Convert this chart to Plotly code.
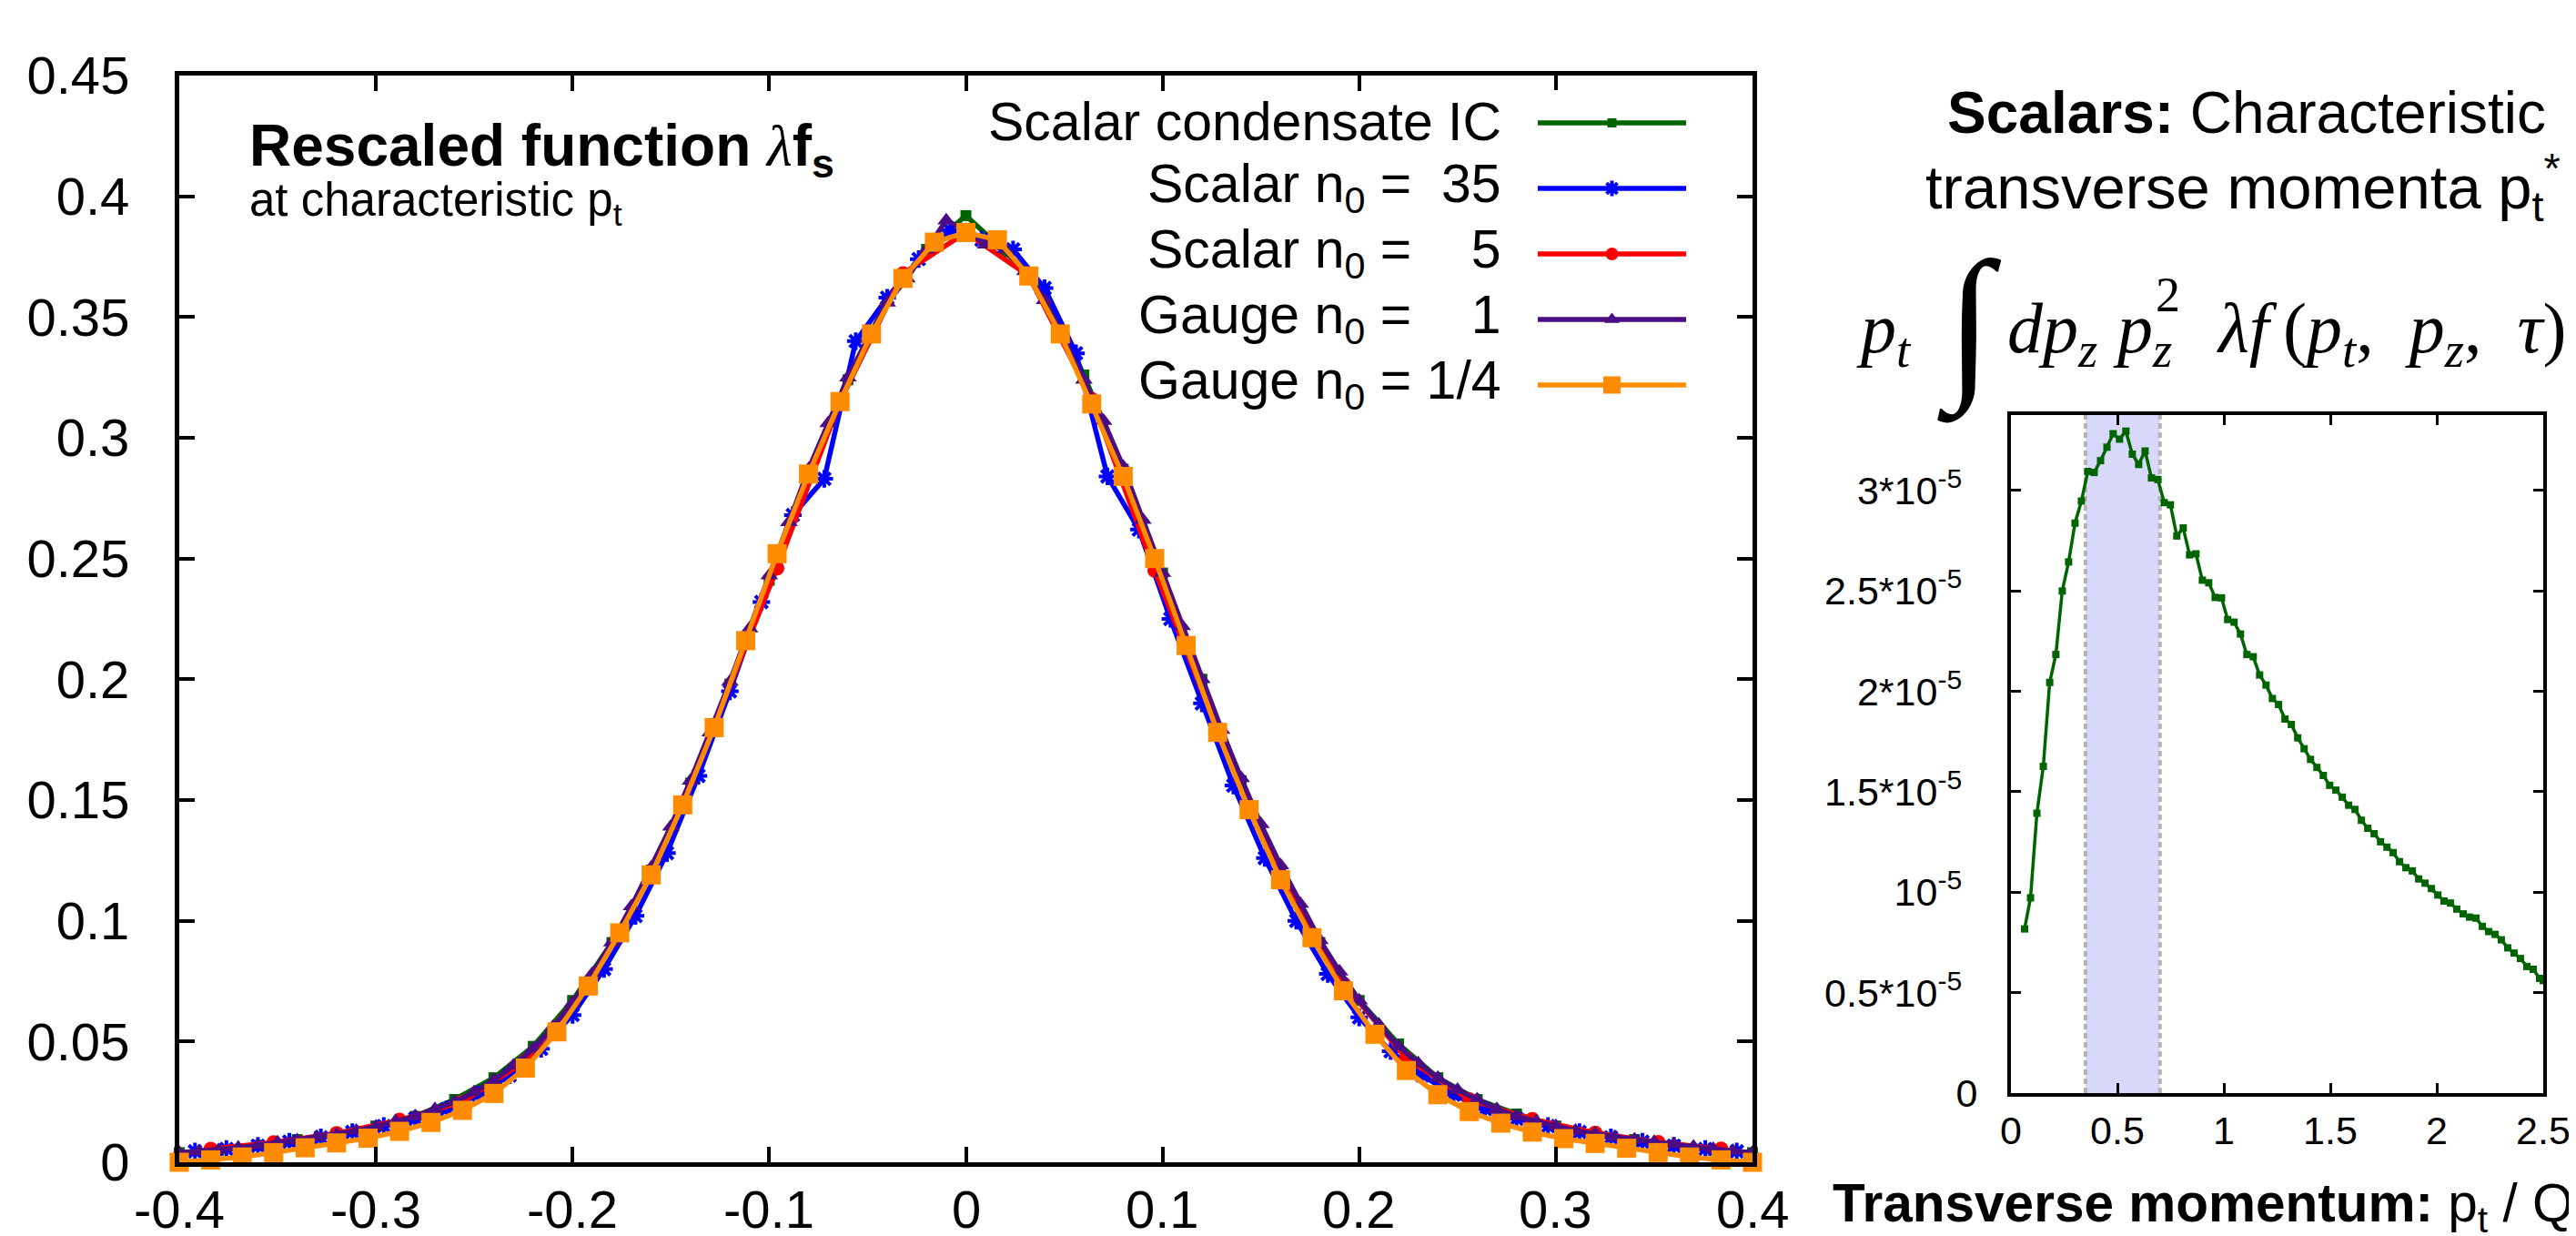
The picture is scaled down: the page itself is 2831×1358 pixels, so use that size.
import plotly.graph_objects as go

W, H = 2831, 1358

# ---------------- main panel data (rescaled function) ----------------
green_x = [-0.40, -0.38, -0.36, -0.34, -0.32, -0.30, -0.28, -0.26, -0.24, -0.22, -0.20, -0.18, -0.16, -0.14,
           -0.12, -0.10, -0.08, -0.06, -0.04, -0.02, 0.00, 0.02, 0.04, 0.06, 0.08, 0.10, 0.12, 0.14, 0.16,
           0.18, 0.20, 0.22, 0.24, 0.26, 0.28, 0.30, 0.32, 0.34, 0.36, 0.38, 0.40]
green_y = [0.004, 0.005, 0.007, 0.0094, 0.0118, 0.015, 0.019, 0.026, 0.035, 0.048, 0.067, 0.091, 0.121, 0.157,
           0.198, 0.241, 0.285, 0.324, 0.357, 0.378, 0.392, 0.377, 0.361, 0.326, 0.287, 0.244, 0.200, 0.158,
           0.121, 0.091, 0.067, 0.049, 0.035, 0.026, 0.020, 0.015, 0.012, 0.0094, 0.007, 0.005, 0.004]

blue_x = [-0.392, -0.376, -0.360, -0.344, -0.328, -0.312, -0.296, -0.280, -0.264, -0.248, -0.232, -0.216, -0.200,
          -0.184, -0.168, -0.152, -0.136, -0.120, -0.104, -0.088, -0.072, -0.056, -0.040, -0.024, -0.008,
          0.008, 0.024, 0.040, 0.056, 0.072, 0.088, 0.104, 0.120, 0.136, 0.152, 0.168, 0.184, 0.200, 0.216,
          0.232, 0.248, 0.264, 0.280, 0.296, 0.312, 0.328, 0.344, 0.360, 0.376, 0.392]
blue_y = [0.0045, 0.0055, 0.0068, 0.0085, 0.0103, 0.0125, 0.015, 0.018, 0.022, 0.028, 0.036, 0.047, 0.061,
          0.080, 0.102, 0.128, 0.160, 0.195, 0.232, 0.268, 0.283, 0.340, 0.358, 0.374, 0.386,
          0.382, 0.378, 0.362, 0.335, 0.284, 0.262, 0.225, 0.190, 0.156, 0.126, 0.100, 0.078, 0.060, 0.046,
          0.036, 0.028, 0.022, 0.018, 0.015, 0.0125, 0.0103, 0.0085, 0.0068, 0.0055, 0.0045]

red_x = [-0.384, -0.352, -0.320, -0.288, -0.256, -0.224, -0.192, -0.160, -0.128, -0.096, -0.064, -0.032, 0.000,
         0.032, 0.064, 0.096, 0.128, 0.160, 0.192, 0.224, 0.256, 0.288, 0.320, 0.352, 0.384]
red_y = [0.0055, 0.0082, 0.0120, 0.0175, 0.0250, 0.0420, 0.0740, 0.1200, 0.1810, 0.2460, 0.3150, 0.3680, 0.3850,
         0.3670, 0.3160, 0.2450, 0.1790, 0.1190, 0.0740, 0.0430, 0.0260, 0.0178, 0.0122, 0.0083, 0.0056]

purple_x = [-0.40, -0.39, -0.38, -0.37, -0.36, -0.35, -0.34, -0.33, -0.32, -0.31, -0.30, -0.29, -0.28, -0.27,
            -0.26, -0.25, -0.24, -0.23, -0.22, -0.21, -0.20, -0.19, -0.18, -0.17, -0.16, -0.15, -0.14, -0.13,
            -0.12, -0.11, -0.10, -0.09, -0.08, -0.07, -0.06, -0.05, -0.04, -0.03, -0.02, -0.01, 0.00,
            0.01, 0.02, 0.03, 0.04, 0.05, 0.06, 0.07, 0.08, 0.09, 0.10, 0.11, 0.12, 0.13, 0.14, 0.15, 0.16,
            0.17, 0.18, 0.19, 0.20, 0.21, 0.22, 0.23, 0.24, 0.25, 0.26, 0.27, 0.28, 0.29, 0.30, 0.31, 0.32,
            0.33, 0.34, 0.35, 0.36, 0.37, 0.38, 0.39, 0.40]
purple_y = [0.0040, 0.0045, 0.0050, 0.0060, 0.0070, 0.0082, 0.0090, 0.0105, 0.0115, 0.0130, 0.0148, 0.0170,
            0.0190, 0.0220, 0.0250, 0.0290, 0.0340, 0.0400, 0.0470, 0.0560, 0.0660, 0.0780, 0.0910, 0.1060,
            0.1220, 0.1390, 0.1580, 0.1780, 0.1990, 0.2210, 0.2430, 0.2650, 0.2870, 0.3060, 0.3250, 0.3410,
            0.3560, 0.3660, 0.3780, 0.3900, 0.3860,
            0.3800, 0.3780, 0.3690, 0.3570, 0.3410, 0.3240, 0.3070, 0.2880, 0.2660, 0.2440, 0.2220, 0.2000,
            0.1790, 0.1590, 0.1400, 0.1230, 0.1070, 0.0920, 0.0790, 0.0670, 0.0570, 0.0480, 0.0410, 0.0350,
            0.0300, 0.0260, 0.0220, 0.0190, 0.0170, 0.0150, 0.0130, 0.0118, 0.0105, 0.0094, 0.0084, 0.0074,
            0.0064, 0.0055, 0.0047, 0.0040]

orange_x = [-0.400, -0.384, -0.368, -0.352, -0.336, -0.320, -0.304, -0.288, -0.272, -0.256, -0.240, -0.224,
            -0.208, -0.192, -0.176, -0.160, -0.144, -0.128, -0.112, -0.096, -0.080, -0.064, -0.048, -0.032,
            -0.016, 0.000, 0.016, 0.032, 0.048, 0.064, 0.080, 0.096, 0.112, 0.128, 0.144, 0.160, 0.176,
            0.192, 0.208, 0.224, 0.240, 0.256, 0.272, 0.288, 0.304, 0.320, 0.336, 0.352, 0.368, 0.384, 0.400]
orange_y = [0.0000, 0.0010, 0.0022, 0.0040, 0.0060, 0.0080, 0.0100, 0.0128, 0.0165, 0.0215, 0.0285, 0.0390,
            0.0540, 0.0730, 0.0950, 0.1190, 0.1480, 0.1800, 0.2160, 0.2520, 0.2850, 0.3150, 0.3430, 0.3660,
            0.3810, 0.3850, 0.3820, 0.3670, 0.3430, 0.3140, 0.2840, 0.2500, 0.2140, 0.1780, 0.1460, 0.1170,
            0.0930, 0.0710, 0.0530, 0.0380, 0.0280, 0.0210, 0.0162, 0.0125, 0.0098, 0.0078, 0.0058, 0.0040,
            0.0022, 0.0010, 0.0000]

series_names = ["Scalar condensate IC", "Scalar n<sub>0</sub> =\u00a0\u00a035",
                "Scalar n<sub>0</sub> =\u00a0\u00a0\u00a0\u00a05", "Gauge n<sub>0</sub> =\u00a0\u00a0\u00a0\u00a01",
                "Gauge n<sub>0</sub> =\u00a01/4"]

main_x_ticks = [-0.4, -0.3, -0.2, -0.1, 0.0, 0.1, 0.2, 0.3, 0.4]
main_x_labels = ["-0.4", "-0.3", "-0.2", "-0.1", "0", "0.1", "0.2", "0.3", "0.4"]
main_y_ticks = [0, 0.05, 0.1, 0.15, 0.2, 0.25, 0.3, 0.35, 0.4, 0.45]
main_y_labels = ["0", "0.05", "0.1", "0.15", "0.2", "0.25", "0.3", "0.35", "0.4", "0.45"]

# ---------------- inset panel data (characteristic momenta) ----------------
pt_x = [0.064, 0.092, 0.122, 0.152, 0.182, 0.211, 0.241, 0.271, 0.301, 0.331, 0.361, 0.391, 0.421, 0.451,
        0.480, 0.510, 0.540, 0.570, 0.600, 0.630, 0.660, 0.690, 0.720, 0.749, 0.779, 0.809, 0.839, 0.869,
        0.899, 0.929, 0.959, 0.989, 1.018, 1.048, 1.078, 1.108, 1.138, 1.168, 1.198, 1.228, 1.257, 1.287,
        1.317, 1.347, 1.377, 1.407, 1.437, 1.467, 1.497, 1.526, 1.556, 1.586, 1.616, 1.646, 1.676, 1.706,
        1.736, 1.766, 1.795, 1.825, 1.855, 1.885, 1.915, 1.945, 1.975, 2.005, 2.034, 2.064, 2.094, 2.124,
        2.154, 2.184, 2.214, 2.244, 2.274, 2.303, 2.333, 2.363, 2.393, 2.423, 2.453, 2.483, 2.500]
# values in units of 10^-5
spectrum_e5 = [0.817, 0.972, 1.393, 1.626, 2.044, 2.183, 2.499, 2.644, 2.837, 2.947, 3.094, 3.089, 3.148, 3.215,
               3.282, 3.255, 3.295, 3.180, 3.129, 3.196, 3.062, 3.054, 2.939, 2.928, 2.773, 2.813, 2.679, 2.684,
               2.553, 2.540, 2.467, 2.465, 2.357, 2.344, 2.285, 2.183, 2.172, 2.081, 2.031, 1.964, 1.934, 1.862,
               1.835, 1.768, 1.714, 1.661, 1.621, 1.581, 1.532, 1.508, 1.473, 1.433, 1.412, 1.358, 1.318, 1.291,
               1.251, 1.224, 1.197, 1.152, 1.122, 1.106, 1.066, 1.045, 1.018, 0.986, 0.956, 0.946, 0.916, 0.892,
               0.876, 0.871, 0.830, 0.804, 0.790, 0.763, 0.723, 0.697, 0.670, 0.630, 0.616, 0.571, 0.560]
band_lo, band_hi = 0.35, 0.70
inset_x_ticks = [0, 0.5, 1, 1.5, 2, 2.5]
inset_x_labels = ["0", "0.5", "1", "1.5", "2", "2.5"]
inset_y_ticks = [0, 0.5, 1, 1.5, 2, 2.5, 3]
inset_y_labels = ["0", "0.5*10<sup>-5</sup>\u2009\u2009", "10<sup>-5</sup>\u2009\u2009",
                  "1.5*10<sup>-5</sup>\u2009\u2009", "2*10<sup>-5</sup>\u2009\u2009",
                  "2.5*10<sup>-5</sup>\u2009\u2009", "3*10<sup>-5</sup>\u2009\u2009"]

# ---------------- styles ----------------
colors = ["#006400", "#0000ff", "#ff0000", "#4b0c85", "#ff8c00"]
symbols = ["square", "asterisk-open", "circle", "triangle-up", "square"]
msizes = [12, 16, 16, 17, 21]
FONT = "Liberation Sans, Arial, sans-serif"
SERIF = "Liberation Serif, Times New Roman, serif"


def px(x):
    return x / W


def py(y):
    return 1 - y / H


fig = go.Figure()

data = [(green_x, green_y), (blue_x, blue_y), (red_x, red_y), (purple_x, purple_y), (orange_x, orange_y)]
for i, (xs, ys) in enumerate(data):
    mk = dict(symbol=symbols[i], size=msizes[i], color=colors[i])
    if symbols[i] == "asterisk-open":
        mk["line"] = dict(color=colors[i], width=4)
    fig.add_trace(go.Scatter(x=xs, y=ys, mode="lines+markers", line=dict(color=colors[i], width=5.5),
                             marker=mk, cliponaxis=False, showlegend=False, xaxis="x", yaxis="y"))

# hand-made legend (gnuplot style: text then sample)
for i in range(5):
    row = 4 - i
    fig.add_trace(go.Scatter(x=[0, 1], y=[row, row], mode="lines", line=dict(color=colors[i], width=5.5),
                             showlegend=False, hoverinfo="skip", xaxis="x3", yaxis="y3"))
    mk = dict(symbol=symbols[i], size=msizes[i] - 2, color=colors[i])
    if symbols[i] == "asterisk-open":
        mk["line"] = dict(color=colors[i], width=4)
    fig.add_trace(go.Scatter(x=[0.5], y=[row], mode="markers", marker=mk,
                             showlegend=False, hoverinfo="skip", xaxis="x3", yaxis="y3"))

# inset trace
fig.add_trace(go.Scatter(x=pt_x, y=spectrum_e5, mode="lines+markers",
                         line=dict(color="#006400", width=3.5),
                         marker=dict(symbol="square", size=8, color="#006400"),
                         showlegend=False, xaxis="x2", yaxis="y2"))

main_axis = dict(showline=True, linecolor="black", linewidth=5, mirror="ticks", ticks="inside",
                 ticklen=17, tickwidth=4, tickcolor="black", showgrid=False, zeroline=False,
                 automargin=False, tickfont=dict(family=FONT, size=58, color="black"))
inset_axis = dict(showline=True, linecolor="black", linewidth=4, mirror="ticks", ticks="inside",
                  ticklen=11, tickwidth=3, tickcolor="black", showgrid=False, zeroline=False,
                  automargin=False, tickfont=dict(family=FONT, size=43, color="black"))

fig.update_layout(
    template="none",
    width=W, height=H,
    margin=dict(l=0, r=0, t=0, b=0, autoexpand=False),
    font=dict(family=FONT, color="black"),
    paper_bgcolor="white", plot_bgcolor="white",
    xaxis=dict(domain=[px(189), px(1918)], range=[-0.4, 0.4], tickvals=main_x_ticks,
               showticklabels=False, anchor="y", **main_axis),
    yaxis=dict(domain=[py(1269), py(75)], range=[0, 0.45], tickvals=main_y_ticks,
               ticktext=main_y_labels, anchor="x", ticklabelstandoff=38, **main_axis),
    xaxis2=dict(domain=[px(2202), px(2787)], range=[0, 2.5], tickvals=inset_x_ticks,
                ticktext=inset_x_labels, anchor="y2", ticklabelstandoff=0, **inset_axis),
    yaxis2=dict(domain=[py(1193), py(448)], range=[0, 3.375], tickvals=inset_y_ticks,
                ticktext=inset_y_labels, anchor="x2", ticklabelstandoff=24, **inset_axis),
    xaxis3=dict(domain=[px(1682), px(1845)], range=[0, 1], visible=False, anchor="y3", automargin=False),
    yaxis3=dict(domain=[py(451), py(91)], range=[-0.5, 4.5], visible=False, anchor="x3", automargin=False),
)

# shaded band in inset
fig.add_shape(type="rect", xref="x2", yref="y2 domain", x0=band_lo, x1=band_hi, y0=0, y1=1,
              fillcolor="#d8d8fa", line=dict(width=0), layer="below")
for xv in (band_lo, band_hi):
    fig.add_shape(type="line", xref="x2", yref="y2 domain", x0=xv, x1=xv, y0=0, y1=1,
                  line=dict(color="#b5b5b5", width=4, dash="6px,4px"), layer="below")

ann = []
# main x tick labels (placed as text under each tick)
for tv, tl in zip(main_x_ticks, main_x_labels):
    ann.append(dict(text=tl, x=tv, xref="x", y=py(1320), yref="paper", xanchor="center", yanchor="middle",
                    font=dict(family=FONT, size=58, color="black")))
# legend texts
for i, name in enumerate(series_names):
    ann.append(dict(text=name, x=px(1644), y=py(126 + 72 * i), xanchor="right", yanchor="middle",
                    font=dict(family=FONT, size=59, color="black")))
# main-panel label
ann.append(dict(text="<b>Rescaled function </b><span style='font-family:Liberation Serif'><i>λ</i></span>"
                     "<b>f<sub>s</sub></b>",
                x=px(264), y=py(156), xanchor="left", yanchor="middle",
                font=dict(family=FONT, size=64, color="black")))
ann.append(dict(text="at characteristic p<sub>t</sub>", x=px(264), y=py(215), xanchor="left",
                yanchor="middle", font=dict(family=FONT, size=51, color="black")))
# inset titles
ann.append(dict(text="<b>Scalars:</b> Characteristic", x=px(2130), y=py(116), xanchor="left",
                yanchor="middle", font=dict(family=FONT, size=64, color="black")))
ann.append(dict(text="transverse momenta p<sub>t</sub><sup>*</sup>", x=px(2106), y=py(198), xanchor="left",
                yanchor="middle", font=dict(family=FONT, size=67, color="black")))
# formula pieces
SER = dict(family=SERIF, size=78, color="black")
ann.append(dict(text="<i>p</i><sub><i>t</i></sub>", x=px(2030), y=py(358), xanchor="left", yanchor="middle",
                font=SER))
ann.append(dict(text="<i>∫</i>", x=px(2156), y=py(350), xanchor="center", yanchor="middle",
                font=dict(family=SERIF, size=185, color="black")))
ann.append(dict(text="<i>dp</i><sub><i>z</i></sub>", x=px(2196), y=py(358), xanchor="left", yanchor="middle",
                font=SER))
ann.append(dict(text="<i>p</i><sub><i>z</i></sub>", x=px(2312), y=py(358), xanchor="left", yanchor="middle",
                font=SER))
ann.append(dict(text="2", x=px(2374), y=py(316), xanchor="center", yanchor="middle",
                font=dict(family=SERIF, size=54, color="black")))
ann.append(dict(text="<i>λf</i>\u2009(<i>p</i><sub><i>t</i></sub>,\u2002<i>p</i><sub><i>z</i></sub>,\u2002"
                     "<i>τ</i>)",
                x=px(2426), y=py(358), xanchor="left", yanchor="middle", font=SER))
# inset x title
ann.append(dict(text="<b>Transverse momentum:</b> p<sub>t</sub> / Q", x=px(2004), y=py(1318), xanchor="left",
                yanchor="middle", font=dict(family=FONT, size=58.5, color="black")))

for a in ann:
    a.setdefault("xref", "paper")
    a.setdefault("yref", "paper")
    a.update(showarrow=False)
fig.update_layout(annotations=ann)

fig.write_html("out.html")
